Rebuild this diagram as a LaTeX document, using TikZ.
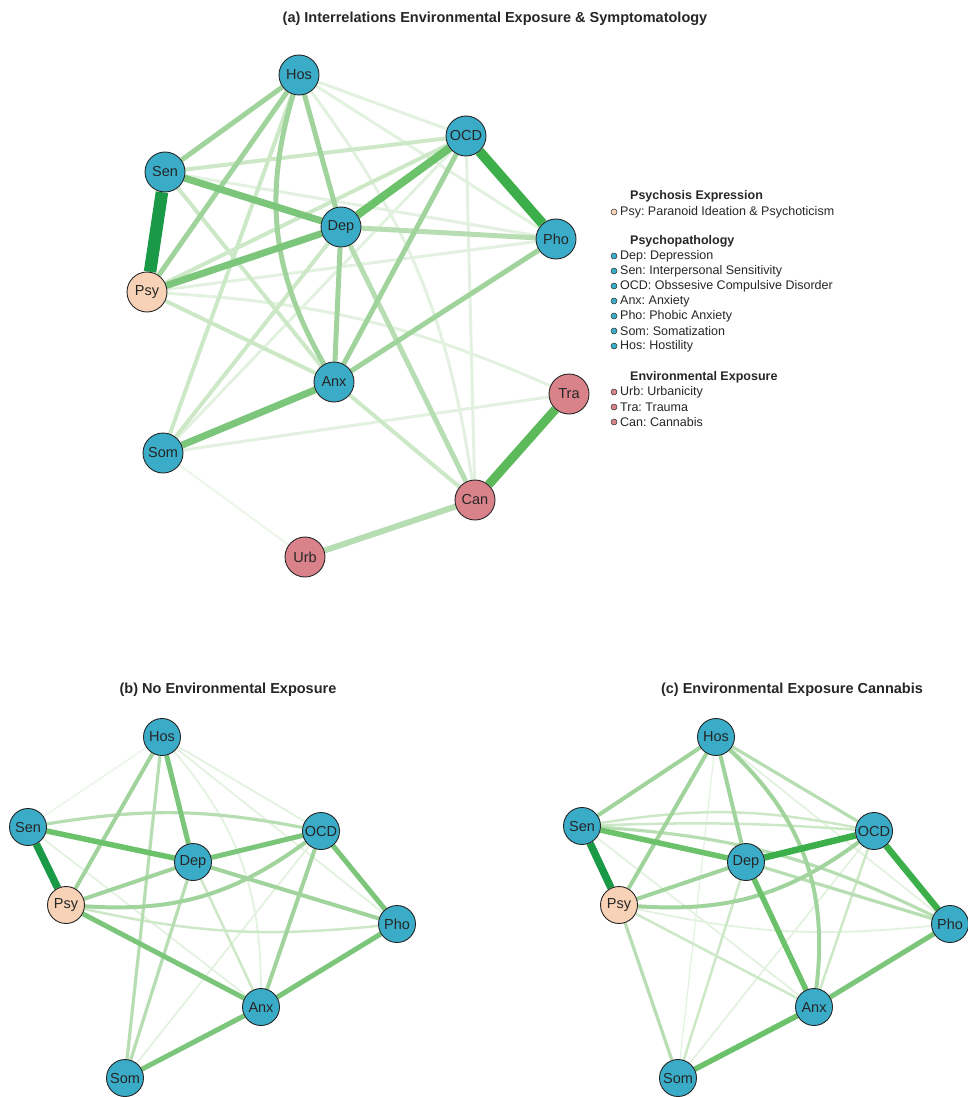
\documentclass[tikz,border=0pt]{standalone}
\usepackage{fontspec}
\setmainfont{Liberation Sans}
\usetikzlibrary{arrows,automata,backgrounds}
\frenchspacing

\definecolor{symblue}{HTML}{3AACC8}
\definecolor{psypeach}{HTML}{F7D2B6}
\definecolor{envpink}{HTML}{D9828A}
\definecolor{g7}{HTML}{1A9A46}
\definecolor{g6}{HTML}{3DAF4A}
\definecolor{g5}{HTML}{5CBA5A}
\definecolor{g45}{HTML}{6BC26B}
\definecolor{g4}{HTML}{7CC67B}
\definecolor{g3}{HTML}{A0D49C}
\definecolor{g2}{HTML}{B7DEB2}
\definecolor{g1}{HTML}{CCE8C7}
\definecolor{g0}{HTML}{E3F2E0}

\begin{document}
\begin{tikzpicture}[x=1pt,y=-1pt]
  \tikzstyle{every state}=[draw=black!85,line width=0.9pt,minimum size=40pt,inner sep=0pt,
                           text=black!85,font=\fontsize{14.5}{14.5}\selectfont]
  \tikzstyle{symnode}=[state,fill=symblue]
  \tikzstyle{psynode}=[state,fill=psypeach]
  \tikzstyle{envnode}=[state,fill=envpink]
  \tikzstyle{subnet}=[minimum size=37pt]
  \tikzstyle{paneltitle}=[font=\bfseries\fontsize{14.5}{14.5}\selectfont,text=black!85]
  \tikzstyle{legdot}=[circle,draw=black!80,line width=0.5pt,minimum size=6pt,inner sep=0pt]
  \tikzstyle{legtext}=[anchor=west,inner sep=0pt,font=\fontsize{12.5}{12.5}\selectfont,text=black!85]
  \tikzstyle{leghead}=[legtext,font=\bfseries\fontsize{12.5}{12.5}\selectfont]
  % edge weights, panel (a)
  \tikzstyle{a0}=[draw=g0,line width=3pt]
  \tikzstyle{a1}=[draw=g1,line width=4pt]
  \tikzstyle{a2}=[draw=g2,line width=5pt]
  \tikzstyle{a3}=[draw=g3,line width=5pt]
  \tikzstyle{a4}=[draw=g4,line width=7pt]
  \tikzstyle{a5}=[draw=g5,line width=9pt]
  \tikzstyle{a6}=[draw=g6,line width=10pt]
  \tikzstyle{a7}=[draw=g7,line width=12.5pt]
  % edge weights, panels (b) and (c)
  \tikzstyle{b0}=[draw=g0,line width=1.8pt]
  \tikzstyle{b1}=[draw=g1,line width=2.5pt]
  \tikzstyle{b2}=[draw=g2,line width=3.2pt]
  \tikzstyle{b3}=[draw=g3,line width=4pt]
  \tikzstyle{b4}=[draw=g4,line width=5pt]
  \tikzstyle{b5}=[draw=g45,line width=5.5pt]
  \tikzstyle{b6}=[draw=g6,line width=6.5pt]
  \tikzstyle{b7}=[draw=g7,line width=7.5pt]

  \useasboundingbox (0,0) rectangle (967,1097);

  % (a)
  \node[paneltitle] (titleA) at (495,19) {(a) Interrelations Environmental Exposure \& Symptomatology};

  \node[symnode] (Hos) at (299,75)  {Hos};
  \node[symnode] (OCD) at (466,136) {OCD};
  \node[symnode] (Sen) at (165,172) {Sen};
  \node[symnode] (Dep) at (341,227) {Dep};
  \node[symnode] (Pho) at (556,239) {Pho};
  \node[psynode] (Psy) at (147,292) {Psy};
  \node[symnode] (Anx) at (334,382) {Anx};
  \node[envnode] (Tra) at (569,394) {Tra};
  \node[symnode] (Som) at (163,453) {Som};
  \node[envnode] (Can) at (475,500) {Can};
  \node[envnode] (Urb) at (305,557) {Urb};

  \begin{pgfonlayer}{background}
  \path (Som) edge[a0,line width=2pt,draw=g0!70] (Urb)
        (Hos) edge[a0]                 (OCD)
        (Hos) edge[a0]                 (Pho)
        (Hos) edge[a0,bend left=14]    (Can)
        (OCD) edge[a0]                 (Can)
        (OCD) edge[a0]                 (Som)
        (Sen) edge[a0]                 (Pho)
        (Som) edge[a0]                 (Tra)
        (Psy) edge[a0]                 (Pho)
        (Psy) edge[a0,bend left=10]    (Tra)
        (Sen) edge[a1]                 (OCD)
        (Psy) edge[a1]                 (OCD)
        (Sen) edge[a1]                 (Anx)
        (Hos) edge[a1]                 (Som)
        (Dep) edge[a1]                 (Som)
        (Psy) edge[a1]                 (Anx)
        (Anx) edge[a1]                 (Can)
        (Dep) edge[a2]                 (Pho)
        (Dep) edge[a2]                 (Can)
        (Urb) edge[a2,line width=6pt]  (Can)
        (Hos) edge[a3]                 (Sen)
        (Hos) edge[a3]                 (Psy)
        (Hos) edge[a3]                 (Dep)
        (Hos) edge[a3,bend right=23]   (Anx)
        (Dep) edge[a3]                 (Anx)
        (OCD) edge[a3]                 (Anx)
        (Pho) edge[a3]                 (Anx)
        (Sen) edge[a4]                 (Dep)
        (Psy) edge[a4]                 (Dep)
        (Anx) edge[a4]                 (Som)
        (OCD) edge[a4,draw=g45,line width=8pt] (Dep)
        (Tra) edge[a5]                 (Can)
        (OCD) edge[a6]                 (Pho)
        (Sen) edge[a7]                 (Psy);
  \end{pgfonlayer}

  % legend
  \node[leghead] (hPsy) at (630,196) {Psychosis Expression};
  \node[legdot,fill=psypeach] (dPsy) at (614,212) {};
  \node[legtext] (tPsy) at (620,212) {Psy: Paranoid Ideation \& Psychoticism};
  \node[leghead] (hSym) at (630,241) {Psychopathology};
  \node[legdot,fill=symblue] (dDep) at (614,256) {};
  \node[legtext] (tDep) at (620,256) {Dep: Depression};
  \node[legdot,fill=symblue] (dSen) at (614,271) {};
  \node[legtext] (tSen) at (620,271) {Sen: Interpersonal Sensitivity};
  \node[legdot,fill=symblue] (dOCD) at (614,286) {};
  \node[legtext] (tOCD) at (620,286) {OCD: Obssesive Compulsive Disorder};
  \node[legdot,fill=symblue] (dAnx) at (614,301) {};
  \node[legtext] (tAnx) at (620,301) {Anx: Anxiety};
  \node[legdot,fill=symblue] (dPho) at (614,316) {};
  \node[legtext] (tPho) at (620,316) {Pho: Phobic Anxiety};
  \node[legdot,fill=symblue] (dSom) at (614,331) {};
  \node[legtext] (tSom) at (620,331) {Som: Somatization};
  \node[legdot,fill=symblue] (dHos) at (614,346) {};
  \node[legtext] (tHos) at (620,346) {Hos: Hostility};
  \node[leghead] (hEnv) at (630,377) {Environmental Exposure};
  \node[legdot,fill=envpink] (dUrb) at (614,392) {};
  \node[legtext] (tUrb) at (620,392) {Urb: Urbanicity};
  \node[legdot,fill=envpink] (dTra) at (614,407) {};
  \node[legtext] (tTra) at (620,407) {Tra: Trauma};
  \node[legdot,fill=envpink] (dCan) at (614,422) {};
  \node[legtext] (tCan) at (620,422) {Can: Cannabis};

  % (b)
  \node[paneltitle] (titleB) at (228,690) {(b) No Environmental Exposure};

  \node[symnode,subnet] (bHos) at (162,737)  {Hos};
  \node[symnode,subnet] (bSen) at (28,827)   {Sen};
  \node[symnode,subnet] (bOCD) at (321,831)  {OCD};
  \node[symnode,subnet] (bDep) at (193,862)  {Dep};
  \node[psynode,subnet] (bPsy) at (66,905)   {Psy};
  \node[symnode,subnet] (bPho) at (397,924)  {Pho};
  \node[symnode,subnet] (bAnx) at (261,1007) {Anx};
  \node[symnode,subnet] (bSom) at (125,1078) {Som};

  \begin{pgfonlayer}{background}
  \path (bHos) edge[b0,line width=1pt]  (bSen)
        (bHos) edge[b0]                 (bOCD)
        (bHos) edge[b0]                 (bPho)
        (bHos) edge[b0,bend left=20]    (bAnx)
        (bSen) edge[b0]                 (bAnx)
        (bOCD) edge[b0]                 (bSom)
        (bPsy) edge[b1,bend right=9]    (bPho)
        (bDep) edge[b1]                 (bAnx)
        (bSen) edge[b2,bend left=10]    (bOCD)
        (bHos) edge[b2]                 (bSom)
        (bDep) edge[b2]                 (bSom)
        (bPsy) edge[b3,bend right=20]   (bOCD)
        (bOCD) edge[b3]                 (bAnx)
        (bDep) edge[b3]                 (bPho)
        (bHos) edge[b3]                 (bPsy)
        (bPsy) edge[b3]                 (bDep)
        (bPsy) edge[b4]                 (bAnx)
        (bPho) edge[b4]                 (bAnx)
        (bAnx) edge[b4]                 (bSom)
        (bHos) edge[b4]                 (bDep)
        (bDep) edge[b4]                 (bOCD)
        (bOCD) edge[b4]                 (bPho)
        (bSen) edge[b5]                 (bDep)
        (bSen) edge[b7]                 (bPsy);
  \end{pgfonlayer}

  % (c)
  \node[paneltitle] (titleC) at (792,690) {(c) Environmental Exposure Cannabis};

  \node[symnode,subnet] (cHos) at (716,737)  {Hos};
  \node[symnode,subnet] (cSen) at (582,826)  {Sen};
  \node[symnode,subnet] (cOCD) at (874,831)  {OCD};
  \node[symnode,subnet] (cDep) at (746,862)  {Dep};
  \node[psynode,subnet] (cPsy) at (619,905)  {Psy};
  \node[symnode,subnet] (cPho) at (950,924)  {Pho};
  \node[symnode,subnet] (cAnx) at (814,1007) {Anx};
  \node[symnode,subnet] (cSom) at (678,1078) {Som};

  \begin{pgfonlayer}{background}
  \path (cHos) edge[b0]                 (cPho)
        (cHos) edge[b0,line width=1.2pt] (cSom)
        (cPsy) edge[b0,bend right=9]    (cPho)
        (cOCD) edge[b0]                 (cSom)
        (cSen) edge[b0]                 (cAnx)
        (cSen) edge[b1,bend left=10]    (cOCD)
        (cSen) edge[b1,bend left=3]     (cOCD)
        (cPsy) edge[b1]                 (cAnx)
        (cDep) edge[b1]                 (cSom)
        (cOCD) edge[b1]                 (cAnx)
        (cHos) edge[b2]                 (cOCD)
        (cSen) edge[b2,bend left=11]    (cPho)
        (cDep) edge[b2]                 (cPho)
        (cPsy) edge[b2]                 (cSom)
        (cHos) edge[b3]                 (cSen)
        (cHos) edge[b3]                 (cPsy)
        (cHos) edge[b3]                 (cDep)
        (cHos) edge[b3,bend left=27]    (cAnx)
        (cPsy) edge[b3]                 (cDep)
        (cPsy) edge[b3,bend right=20]   (cOCD)
        (cPho) edge[b4]                 (cAnx)
        (cSen) edge[b5]                 (cDep)
        (cDep) edge[b5]                 (cAnx)
        (cAnx) edge[b5]                 (cSom)
        (cDep) edge[b6]                 (cOCD)
        (cOCD) edge[b6]                 (cPho)
        (cSen) edge[b7]                 (cPsy);
  \end{pgfonlayer}
\end{tikzpicture}
\end{document}
